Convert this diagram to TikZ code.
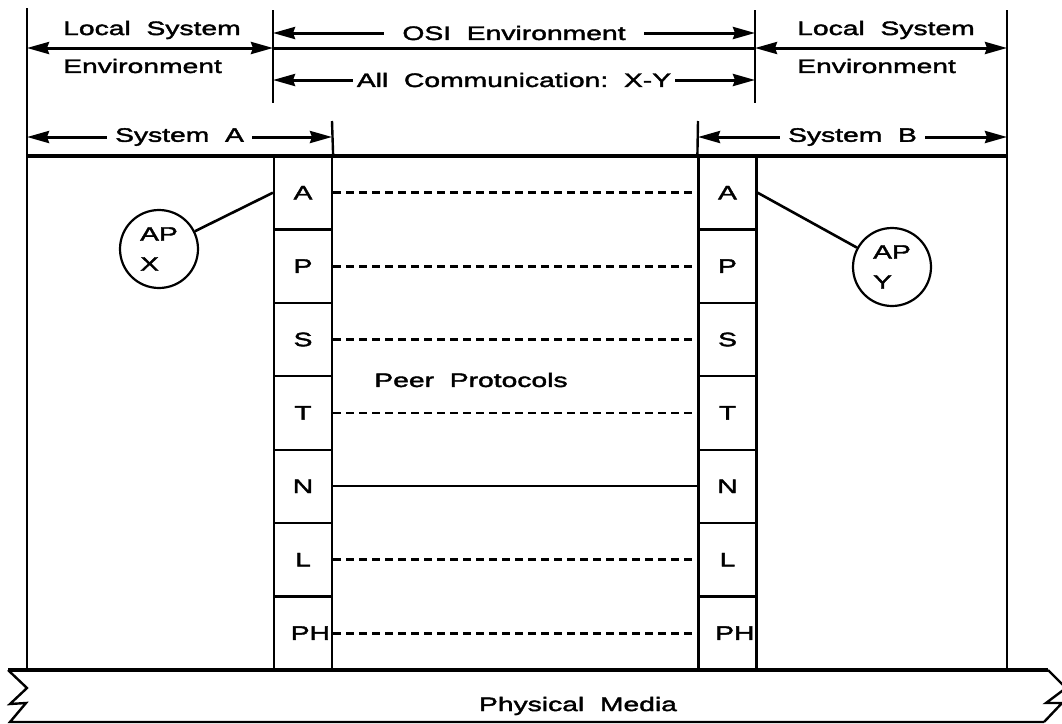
\documentclass[tikz,border=0pt]{standalone}
\usepackage{fontspec}
\setmainfont{Liberation Sans}[FakeStretch=1.45, FakeBold=2]
\usetikzlibrary{arrows.meta}

\begin{document}
\begin{tikzpicture}[x=1pt, y=-1pt,
        txt/.style={font=\fontsize{19.5}{21}\selectfont, inner sep=0pt},
        lyr/.style={draw, line width=2.2pt, minimum width=58pt, minimum height=73.4pt, inner sep=2pt, font=\fontsize{19.5}{21}\selectfont},
        ap/.style={draw, circle, line width=2.2pt, minimum size=78pt, inner sep=0pt, align=left, font=\fontsize{19.5}{30}\selectfont},
        dimline/.style={line width=3pt, {Stealth[length=22pt,width=12pt,inset=2pt]}-{Stealth[length=22pt,width=12pt,inset=2pt]}},
        edgeline/.style={line width=2.4pt},
        peer/.style={line width=2.8pt, dash pattern=on 8pt off 5pt}]
        \useasboundingbox (0,0) rectangle (1062,723);
        % end points of the dimension lines
        \coordinate (lo-top) at (27,8);
        \coordinate (lo-bot) at (27,670);
        \coordinate (ro-top) at (1007,10);
        \coordinate (ro-bot) at (1007,670);
        \coordinate (osl-top) at (273,10);
        \coordinate (osl-bot) at (273,103);
        \coordinate (osr-top) at (755,10);
        \coordinate (osr-bot) at (755,103);
        \coordinate (sa-top) at (332,121);
        \coordinate (sb-top) at (698,121);
        \coordinate (lo-48) at (27,48);
        \coordinate (osl-48) at (273,48);
        \coordinate (osr-48) at (755,48);
        \coordinate (ro-48) at (1007,48);
        \coordinate (osl-33) at (273,33);
        \coordinate (osr-33) at (755,33);
        \coordinate (osl-80) at (273,80);
        \coordinate (osr-80) at (755,80);
        \coordinate (lo-137) at (27,137);
        \coordinate (sa-137) at (332,137);
        \coordinate (sb-137) at (698,137);
        \coordinate (ro-137) at (1007,137);
        \coordinate (lo-156) at (27,156);
        \coordinate (ro-156) at (1007,156);
        \coordinate (bl) at (8,670);
        \coordinate (br) at (1048,670);

        % layers of system A and system B
        \node[lyr] (a1) at (303,192.7) {A};
        \node[lyr] (a2) at (303,266.1) {P};
        \node[lyr] (a3) at (303,339.5) {S};
        \node[lyr] (a4) at (303,412.9) {T};
        \node[lyr] (a5) at (303,486.3) {N};
        \node[lyr] (a6) at (303,559.7) {L};
        \node[lyr, text width=54pt, align=right] (a7) at (303,633.1) {PH};
        \node[lyr] (b1) at (727.5,192.7) {A};
        \node[lyr] (b2) at (727.5,266.1) {P};
        \node[lyr] (b3) at (727.5,339.5) {S};
        \node[lyr] (b4) at (727.5,412.9) {T};
        \node[lyr] (b5) at (727.5,486.3) {N};
        \node[lyr] (b6) at (727.5,559.7) {L};
        \node[lyr, text width=54pt, align=right] (b7) at (727.5,633.1) {PH};

        \node[ap] (apx) at (159,249) {AP\\X};
        \node[ap] (apy) at (892,267) {AP\\Y};

        \node[txt, anchor=west] (lsl) at (63,30) {Local~~System};
        \node[txt, anchor=west] (envl) at (63,66) {Environment};
        \node[txt, anchor=west] (lsr) at (797,30) {Local~~System};
        \node[txt, anchor=west] (envr) at (797,66) {Environment};
        \node[txt] (peer) at (471,380) {Peer~~Protocols};
        \node[txt] (phys) at (578,706) {Physical~~Media};

        % frame
        \draw[edgeline] (lo-top) -- (lo-bot);
        \draw[edgeline] (ro-top) -- (ro-bot);
        \draw[edgeline] (osl-top) -- (osl-bot);
        \draw[edgeline] (osr-top) -- (osr-bot);
        \draw[edgeline] (sa-top) -- (a1.north east);
        \draw[edgeline] (sb-top) -- (b1.north west);
        \draw[line width=3.2pt] (lo-156) -- (ro-156);

        \draw[dimline] (lo-48) -- (osl-48);
        \draw[line width=3pt] (osl-48) -- (osr-48);
        \draw[dimline] (osr-48) -- (ro-48);
        \draw[dimline] (osl-33) -- node[txt, fill=white, inner xsep=18pt, inner ysep=3pt] (osi) {OSI~~Environment} (osr-33);
        \draw[dimline] (osl-80) -- node[txt, fill=white, inner xsep=4pt, inner ysep=3pt] (allcom) {All~~Communication:~~X-Y} (osr-80);
        \draw[dimline] (lo-137) -- node[txt, fill=white, inner xsep=8pt, inner ysep=3pt] (sysa) {System~~A} (sa-137);
        \draw[dimline] (sb-137) -- node[txt, fill=white, inner xsep=8pt, inner ysep=3pt] (sysb) {System~~B} (ro-137);

        % peer protocols
        \draw[peer] (a1) -- (b1);
        \draw[peer] (a2) -- (b2);
        \draw[peer] (a3) -- (b3);
        \draw[peer] (a4) -- (b4);
        \draw[line width=2pt] (a5) -- (b5);
        \draw[peer] (a6) -- (b6);
        \draw[peer] (a7) -- (b7);

        \draw[line width=2.6pt] (apx) -- (a1.west);
        \draw[line width=2.6pt] (apy) -- (b1.east);

        % physical media
        \draw[line width=3.2pt] (bl) -- (br);
        \draw[line width=2.4pt] (bl) -- (27,688) -- (10,704) -- (26,703) -- (10,722) -- (1044,722);
        \draw[line width=2.4pt] (br) -- (1066,688) -- (1046,703) -- (1062,703) -- (1044,722);
\end{tikzpicture}
\end{document}
